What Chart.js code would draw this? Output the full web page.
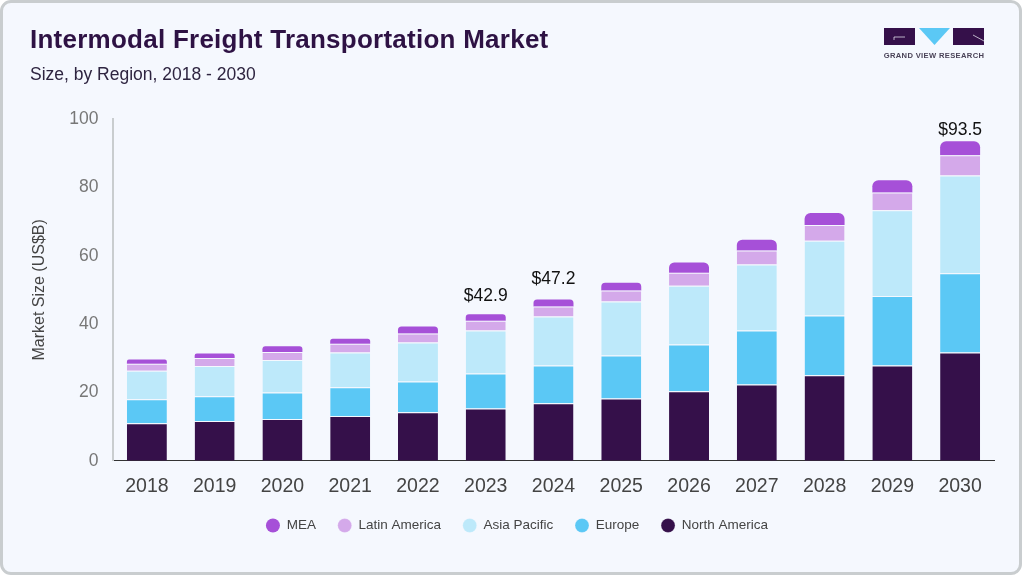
<!DOCTYPE html>
<html>
<head>
<meta charset="utf-8">
<script src="https://cdn.jsdelivr.net/npm/chart.js@4"></script>
<style>
html, body { margin: 0; padding: 0; }
body { width: 1024px; height: 576px; background: #fff; overflow: hidden; position: relative; font-family: "Liberation Sans", Arial, sans-serif; }
#card { position: absolute; left: 0; top: 0; width: 1015.5px; height: 569px; background: #f5f8fe; border: 3px solid #c9cdcf; border-radius: 11px; }
#wrap { position: absolute; left: 0; top: 0; width: 1024px; height: 576px; }
#title { position: absolute; left: 30px; top: 24px; font-size: 26px; font-weight: bold; color: #2e1244; letter-spacing: 0.25px; white-space: nowrap; }
#subtitle { position: absolute; left: 30px; top: 64px; font-size: 17.5px; color: #2e2440; white-space: nowrap; }
#logo { position: absolute; left: 880px; top: 24px; }
</style>
</head>
<body>
<div id="card"></div>
<div id="wrap"><canvas id="marketChart" width="1024" height="576"></canvas></div>
<div id="title">Intermodal Freight Transportation Market</div>
<div id="subtitle">Size, by Region, 2018 - 2030</div>
<svg id="logo" width="110" height="38">
  <rect x="4" y="4" width="31" height="17" fill="#35104a"/>
  <path d="M14 13H25M14 13V16" stroke="#f5f8fe" stroke-width="0.7" fill="none"/>
  <polygon points="39,4 70,4 54.5,21" fill="#5bc8f5"/>
  <rect x="73" y="4" width="31" height="17" fill="#35104a"/>
  <path d="M93 11L104 17" stroke="#f5f8fe" stroke-width="0.7" fill="none"/>
  <text x="54" y="34" text-anchor="middle" font-size="7.6" font-weight="bold" letter-spacing="0.35" fill="#4a4358" font-family="Liberation Sans">GRAND VIEW RESEARCH</text>
</svg>
<script>
const years = ['2018','2019','2020','2021','2022','2023','2024','2025','2026','2027','2028','2029','2030'];
const northAmerica = [11.0,11.6,12.2,13.1,14.2,15.3,16.8,18.2,20.3,22.3,25.0,27.9,31.7];
const europe = [7.0,7.3,7.8,8.4,9.0,10.2,11.1,12.6,13.7,15.8,17.5,20.3,23.2];
const asiaPacific = [8.3,8.8,9.5,10.2,11.4,12.6,14.3,15.8,17.2,19.3,21.9,25.1,28.6];
const latinAmerica = [2.1,2.4,2.3,2.5,2.6,2.9,2.9,3.2,3.8,4.1,4.6,5.2,5.9];
const mea = [1.2,1.3,1.7,1.5,2.1,1.9,2.1,2.3,3.0,3.2,3.5,3.6,4.1];
const totalLabels = ['','','','','','$42.9','$47.2','','','','','','$93.5'];
const yTicks = [0,20,40,60,80,100];

function makeSet(label, data, color, radius) {
    return {
        label: label,
        data: data,
        backgroundColor: color,
        hoverBackgroundColor: color,
        borderColor: '#f5f8fe',
        borderWidth: radius ? 0 : {top: 1, right: 0, bottom: 0, left: 0},
        borderRadius: radius ? {topLeft: radius, topRight: radius, bottomLeft: 0, bottomRight: 0} : 0,
        borderSkipped: false,
        barPercentage: 1,
        categoryPercentage: 0.59
    };
}

// total labels above the stacks, the gaps differ per label in the original
const labelGaps = {5: 13, 6: 15, 12: 6};
const totalsPlugin = {
    id: 'totals',
    afterLayout(chart) {
        // the original legend sits a bit right of the page centre
        chart.legend.left += 5;
        chart.legend.right += 5;
    },
    afterDatasetsDraw(chart) {
        const ctx = chart.ctx;
        const meta = chart.getDatasetMeta(chart.data.datasets.length - 1);
        ctx.save();
        ctx.font = '17.5px "Liberation Sans"';
        ctx.fillStyle = '#111';
        ctx.textAlign = 'center';
        ctx.textBaseline = 'alphabetic';
        totalLabels.forEach(function(t, i) {
            if (t) ctx.fillText(t, meta.data[i].x, meta.data[i].y - labelGaps[i]);
        });
        ctx.restore();
    }
};

new Chart(document.getElementById('marketChart'), {
    type: 'bar',
    data: {
        labels: years,
        datasets: [
            makeSet('North America', northAmerica, '#35104a', 0),
            makeSet('Europe', europe, '#5bc8f5', 0),
            makeSet('Asia Pacific', asiaPacific, '#bde9fa', 0),
            makeSet('Latin America', latinAmerica, '#d4a9ea', 0),
            makeSet('MEA', mea, '#a650d8', 6)
        ]
    },
    options: {
        responsive: false,
        animation: false,
        layout: {padding: {left: 30, right: 30, top: 119, bottom: 33.75}},
        plugins: {
            tooltip: {enabled: false},
            legend: {
                position: 'bottom',
                reverse: true,
                labels: {
                    usePointStyle: true,
                    pointStyle: 'circle',
                    pointStyleWidth: 14,
                    boxHeight: 10,
                    padding: 21.75,
                    color: '#444',
                    font: {family: 'Liberation Sans', size: 13.5}
                }
            }
        },
        scales: {
            x: {
                stacked: true,
                afterFit: function(scale) { scale.height = 36.25; },
                grid: {display: false, drawTicks: false},
                border: {color: '#333', width: 1},
                ticks: {color: '#444', padding: 14, maxRotation: 0, font: {family: 'Liberation Sans', size: 19.5}}
            },
            y: {
                stacked: true,
                min: 0,
                max: 100,
                afterFit: function(scale) { scale.width = 83; },
                afterBuildTicks: function(scale) { scale.ticks = yTicks.map(function(v) { return {value: v}; }); },
                grid: {display: false, drawTicks: false},
                border: {color: '#c9cdcf', width: 2},
                title: {display: true, text: 'Market Size (US$B)', color: '#444', padding: 0, font: {family: 'Liberation Sans', size: 16}},
                ticks: {color: '#777', padding: 14.5, font: {family: 'Liberation Sans', size: 17.5}}
            }
        }
    },
    plugins: [totalsPlugin]
});
</script>
</body>
</html>
